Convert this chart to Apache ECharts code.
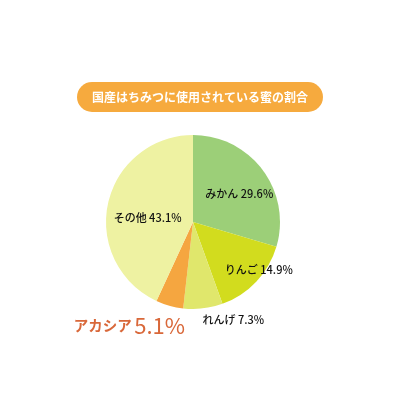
<!DOCTYPE html>
<html><head><meta charset="utf-8">
<script src="https://cdn.jsdelivr.net/npm/echarts@6/dist/echarts.min.js"></script>
<style>html,body{margin:0;padding:0;background:#fff}#c{width:400px;height:400px}</style>
</head><body><div id="c"></div>
<script>
const titleText = '国産はちみつに使用されている蜜の割合';
const categories = ['みかん', 'りんご', 'れんげ', 'アカシア', 'その他'];
const values = [29.6, 14.9, 7.3, 5.1, 43.1];
const colors = ['#9ccf78', '#d2dc1e', '#e0e76c', '#f5a640', '#eef2a2'];
const labelOffsets = [[9, 0], [32, 16], [35, 52], [-51, 59], [0, 6]];

const chart = echarts.init(document.getElementById('c'), null, {renderer: 'canvas'});
const font = '"Noto Sans CJK JP", "Noto Sans", sans-serif';
const data = categories.map((n, i) => {
  const item = {
    name: n, value: values[i],
    itemStyle: {color: colors[i]},
    label: {offset: labelOffsets[i]}
  };
  if (n === 'アカシア') {
    item.label.formatter = p => '{a|' + p.name + '} {b|' + p.value.toFixed(1) + '%}';
  }
  return item;
});
chart.setOption({
  animation: false,
  title: {
    text: titleText, left: 'center', top: 82,
    backgroundColor: '#f6aa3e', borderRadius: 15, padding: [8, 15],
    textStyle: {color: '#fff', fontSize: 12, fontWeight: 'bold', fontFamily: font, lineHeight: 14}
  },
  series: [{
    type: 'pie', center: [193, 222], radius: [0, 87], startAngle: 90, clockwise: true,
    avoidLabelOverlap: false, silent: true,
    itemStyle: {borderWidth: 0},
    label: {
      position: 'inside', color: '#111', fontSize: 11, fontFamily: font, fontWeight: 500,
      formatter: p => p.name + ' ' + p.value.toFixed(1) + '%',
      rich: {
        a: {color: '#d9683a', fontSize: 14.5, fontWeight: 'bold', fontFamily: font},
        b: {color: '#d9683a', fontSize: 22, fontWeight: 'normal', fontFamily: font}
      }
    },
    labelLine: {show: false},
    data: data
  }]
});
</script></body></html>
